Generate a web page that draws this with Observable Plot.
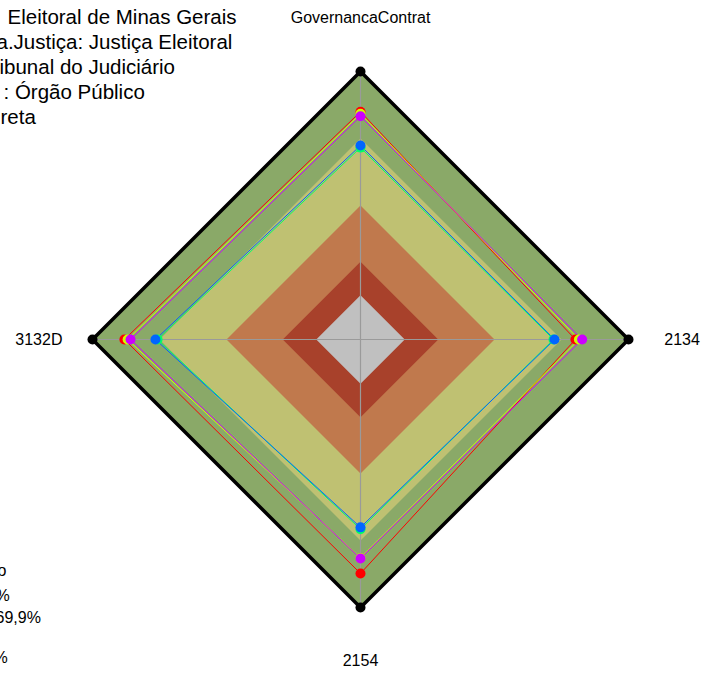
<!DOCTYPE html>
<html><head><meta charset="utf-8">
<script src="https://cdn.jsdelivr.net/npm/d3@7"></script>
<script src="https://cdn.jsdelivr.net/npm/@observablehq/plot@0.6"></script>
<style>
html,body{margin:0;padding:0;background:#fff;overflow:hidden;}
#chart{position:relative;width:702px;height:673px;}
</style>
</head><body><div id="chart"></div>
<script>
// ---- data ----
const axisLabels = ["GovernancaContrat", "2134", "2154", "3132D"];
const seriesNames = ["Série 1", "Série 2", "Série 3", "Série 4", "Série 5"];
const seriesColors = ["#FF0000", "#CCFF00", "#00FF66", "#0066FF", "#CC00FF"];
const serie1 = [85.0, 80.2, 87.3, 88.1];
const serie2 = [84.2, 81.5, 81.5, 86.9];
const serie3 = [71.6, 72.0, 70.8, 75.7];
const serie4 = [72.4, 72.4, 70.1, 76.5];
const serie5 = [83.3, 82.7, 81.7, 85.8];
const bandLevels = [100, 75, 50, 29, 16.5];
const bandColors = ["#8AA968", "#BFC172", "#C0794D", "#A8412B", "#C0C0C0"];
const titleLines = ["Eleitoral de Minas Gerais", "a.Justiça: Justiça Eleitoral", "ibunal do Judiciário", ": Órgão Público", "reta"];
const legendLines = ["o", "%", "69,9%", "%"];

// ---- layout ----
const W = 702, H = 673, CX = 360, CY = 339, R = 268;
const axisAngles = [90, 0, -90, 180];
const titleX = [7, -4, -1, 3, 0];
const titleBase = [23, 48, 73, 98, 123];
const legendX = [-3, -5, -5, -7];
const legendBase = [575, 600, 622, 662];
const labelRadius = 120;

const allSeries = [serie1, serie2, serie3, serie4, serie5];
const rad = a => a * Math.PI / 180;
const pt = (v, i) => ({x: v * Math.cos(rad(axisAngles[i])), y: v * Math.sin(rad(axisAngles[i]))});
const closed = vals => [...vals, vals[0]].map((v, k) => pt(v, k % vals.length));
const polyLevel = lv => closed(axisLabels.map(() => lv));

const marks = [];
bandLevels.forEach((lv, k) => {
  marks.push(Plot.line(polyLevel(lv), {x: "x", y: "y", fill: bandColors[k], stroke: "none"}));
});
marks.push(Plot.link(axisLabels.map((l, i) => ({...pt(100, i)})), {
  x1: () => 0, y1: () => 0, x2: "x", y2: "y", stroke: "#9a9a9a", strokeWidth: 1.2
}));
allSeries.forEach((s, k) => {
  marks.push(Plot.line(closed(s), {x: "x", y: "y", stroke: seriesColors[k], strokeWidth: 1}));
});
allSeries.forEach((s, k) => {
  marks.push(Plot.dot(s.map((v, i) => ({...pt(v, i), serie: seriesNames[k]})), {x: "x", y: "y", r: 5, fill: seriesColors[k], stroke: "none"}));
});
marks.push(Plot.line(polyLevel(100), {x: "x", y: "y", stroke: "black", strokeWidth: 3.5, strokeLinejoin: "miter"}));
marks.push(Plot.dot(axisLabels.map((l, i) => pt(100, i)), {x: "x", y: "y", r: 5, fill: "black"}));
marks.push(Plot.text(axisLabels.map((l, i) => ({...pt(labelRadius, i), label: l})), {
  x: "x", y: "y", text: "label", fontSize: 16, fill: "black", textAnchor: "middle", lineAnchor: "middle"
}));
titleLines.forEach((t, i) => {
  marks.push(Plot.text([t], {text: d => d, frameAnchor: "top-left", dx: titleX[i], dy: titleBase[i],
    textAnchor: "start", lineAnchor: "bottom", fontSize: 20.5, fill: "black"}));
});
legendLines.forEach((t, i) => {
  marks.push(Plot.text([t], {text: d => d, frameAnchor: "top-left", dx: legendX[i], dy: legendBase[i],
    textAnchor: "start", lineAnchor: "bottom", fontSize: 16, fill: "black"}));
});

const chart = Plot.plot({
  width: W, height: H, margin: 0,
  x: {domain: [-CX / R * 100, (W - CX) / R * 100], axis: null},
  y: {domain: [-(H - CY) / R * 100, CY / R * 100], axis: null},
  style: {fontFamily: "'Liberation Sans', Arial, sans-serif", background: "white", overflow: "visible"},
  marks
});
document.getElementById("chart").appendChild(chart);
</script>
</body></html>
